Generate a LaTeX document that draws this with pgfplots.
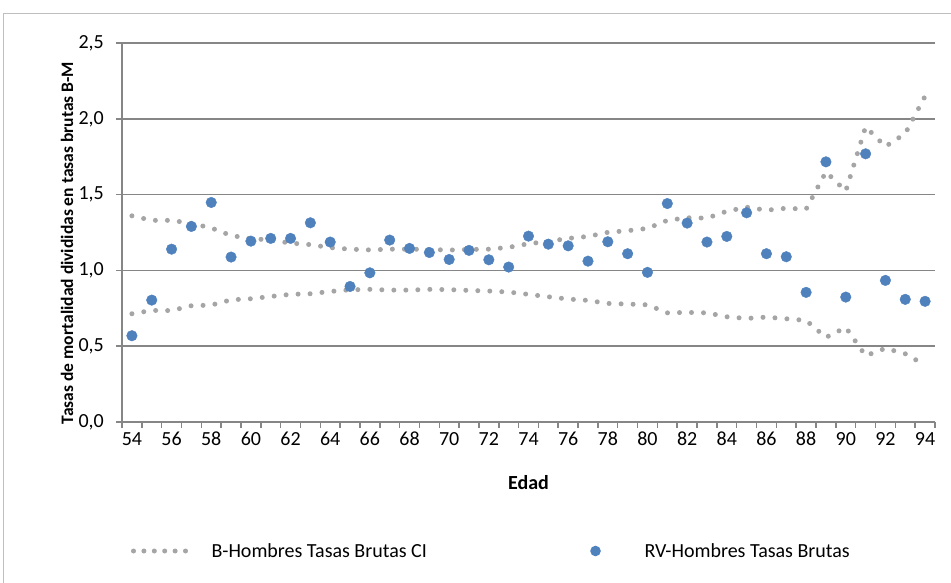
\documentclass[border=0pt]{standalone}
\usepackage{pgfplots}
\pgfplotsset{compat=1.18}
\usepackage{pgfplotstable}
\usepackage{fontspec}
\setmainfont{Carlito}
\definecolor{gridgray}{HTML}{868686}
\definecolor{cigray}{HTML}{A5A5A5}
\definecolor{rvblue}{HTML}{4F81BD}
\definecolor{framegray}{HTML}{BFBFBF}

\pgfplotstableread{
age upper lower
54 1.360 0.714
55 1.330 0.736
56 1.330 0.735
57 1.310 0.767
58 1.280 0.771
59 1.230 0.806
60 1.210 0.813
61 1.200 0.828
62 1.180 0.842
63 1.170 0.846
64 1.150 0.861
65 1.140 0.872
66 1.135 0.875
67 1.140 0.870
68 1.140 0.870
69 1.138 0.875
70 1.134 0.873
71 1.138 0.868
72 1.140 0.864
73 1.152 0.857
74 1.176 0.842
75 1.191 0.826
76 1.211 0.811
77 1.224 0.802
78 1.251 0.782
79 1.262 0.778
80 1.277 0.773
81 1.330 0.720
82 1.347 0.723
83 1.345 0.720
84 1.390 0.694
85 1.417 0.683
86 1.397 0.692
87 1.410 0.681
88 1.404 0.670
89 1.650 0.558
90 1.523 0.624
91 1.947 0.437
92 1.817 0.486
93 1.903 0.450
94 2.149 0.375
}\citable

\pgfplotstableread{
age rv
54 0.569
55 0.804
56 1.140
57 1.290
58 1.448
59 1.088
60 1.193
61 1.211
62 1.211
63 1.314
64 1.187
65 0.894
66 0.984
67 1.200
68 1.145
69 1.118
70 1.072
71 1.132
72 1.070
73 1.022
74 1.226
75 1.173
76 1.162
77 1.061
78 1.189
79 1.110
80 0.987
81 1.441
82 1.312
83 1.187
84 1.224
85 1.380
86 1.110
87 1.090
88 0.855
89 1.716
90 0.824
91 1.769
92 0.934
93 0.809
94 0.796
}\rvtable

\begin{document}
\begin{tikzpicture}
\useasboundingbox (0pt,0pt) rectangle (951pt,583pt);
\draw[framegray, line width=1pt] (3.5pt,0pt) -- (3.5pt,569.5pt) -- (951pt,569.5pt);
\begin{axis}[
  scale only axis,
  width=813pt, height=379pt,
  at={(122pt,161pt)}, anchor=south west,
  xmin=53.5, xmax=94.5, ymin=0, ymax=2.5,
  axis x line*=bottom, axis y line*=left,
  axis line style={draw=gridgray, line width=1.5pt, -},
  xtick={54,56,...,94},
  minor xtick={53.5,54.5,...,94.5},
  ytick={0,0.5,...,2.5},
  tick align=outside,
  major x tick style={draw=none},
  minor x tick style={draw=gridgray, line width=1.5pt},
  minor tick length=6pt,
  major tick length=6pt,
  major y tick style={draw=gridgray, line width=1.5pt},
  ymajorgrids,
  major grid style={draw=gridgray, line width=1.5pt},
  /pgf/number format/assume math mode=true,
  xticklabel style={font=\fontsize{20}{24}\selectfont, anchor=north, inner sep=0pt, yshift=-4pt},
  yticklabel style={font=\fontsize{20}{24}\selectfont, anchor=east, inner sep=0pt, xshift=-12pt,
    /pgf/number format/.cd, fixed, fixed zerofill, precision=1, use comma},
  clip=false,
  legend columns=2,
  legend style={at={(axis description cs:0.0111,-0.3404)}, anchor=west,
    draw=none, fill=none, inner sep=0pt, outer sep=0pt,
    nodes={inner sep=0pt, font=\fontsize{20}{24}\selectfont},
    column sep=0pt},
]
\addplot[cigray, line width=5pt, line cap=round, dash pattern=on 0pt off 12pt,
  legend image code/.code={
    \draw[cigray, line width=5pt, line cap=round, dash pattern=on 0pt off 10.4pt] (0pt,0pt) -- (52pt,0pt);
    \path[draw=none] (0pt,0pt) -- (78pt,0pt);}]
  table[x=age, y=upper] {\citable};
\addlegendentry{\makebox[261pt][l]{B-Hombres Tasas Brutas CI}}
\addplot[cigray, line width=5pt, line cap=round, dash pattern=on 0pt off 12pt, forget plot]
  table[x=age, y=lower] {\citable};
\addplot[only marks, mark=*, mark size=5.3pt, mark options={fill=rvblue, draw=rvblue},
  legend image code/.code={
    \path[draw=none] (0pt,0pt) -- (172pt,0pt);
    \fill[rvblue, draw=none] (123pt,0pt) circle (5.3pt);}]
  table[x=age, y=rv] {\rvtable};
\addlegendentry{RV-Hombres Tasas Brutas}
\end{axis}
\node[anchor=base, font=\fontsize{20}{24}\selectfont\bfseries] at (528.5pt,93pt) {Edad};
\node[anchor=base, rotate=90, font=\fontsize{17.5}{21}\selectfont\bfseries] at (73pt,340pt) {Tasas de mortalidad divididas en tasas brutas B-M};
\end{tikzpicture}
\end{document}
